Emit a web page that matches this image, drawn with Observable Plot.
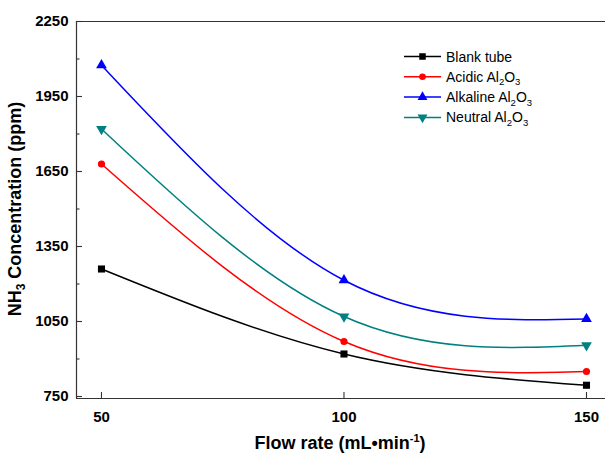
<!DOCTYPE html>
<html><head><meta charset="utf-8">
<script src="https://cdn.jsdelivr.net/npm/d3@7"></script>
<script src="https://cdn.jsdelivr.net/npm/@observablehq/plot@0.6"></script>
<style>
body{margin:0;background:#fff}
#chart{position:relative;width:605px;height:454px;overflow:hidden}
</style>
</head><body><div id="chart"></div>
<script>
// ---- data ----
const flowRates = [50, 100, 150];
const seriesNames = ["Blank tube", "Acidic Al2O3", "Alkaline Al2O3", "Neutral Al2O3"];
const blankTube = [1260, 920, 795];
const acidicAl2O3 = [1680, 970, 850];
const alkalineAl2O3 = [2075, 1215, 1060];
const neutralAl2O3 = [1820, 1070, 955];
const yTicks = [750, 1050, 1350, 1650, 1950, 2250];
const yMinorTicks = [900, 1200, 1500, 1800, 2100];
const xTicks = [50, 100, 150];

// ---- styles ----
const colors = ["#000000", "#ff0000", "#0000ff", "#008080"];
const symbols = ["square", "circle", "triangle", "triangle"];
const rotations = [0, 0, 0, 180];
const radii = [4, 3.6, 4, 4];
const xDomain = [44.85, 153.92];
const yDomain = [742, 2250];
const W = 605, H = 454, mL = 76, mR = 0, mT = 21, mB = 56;
const innerW = W - mL - mR, innerH = H - mT - mB;

const allValues = [blankTube, acidicAl2O3, alkalineAl2O3, neutralAl2O3];
const rows = [];
allValues.forEach((vals, s) => vals.forEach((v, i) => rows.push({series: seriesNames[s], idx: s, x: flowRates[i], y: v})));

const axisColor = "#333";
const marks = [
  Plot.ruleY([yDomain[0], yDomain[1]], {stroke: axisColor, strokeWidth: 1.2}),
  Plot.ruleX([xDomain[0]], {stroke: axisColor, strokeWidth: 1.2}),
  Plot.tickY(yTicks, {y: d => d, insetRight: innerW - 6, stroke: axisColor, strokeWidth: 1.1}),
  Plot.tickY(yMinorTicks, {y: d => d, insetRight: innerW - 3.5, stroke: axisColor, strokeWidth: 1.1}),
  Plot.tickX(xTicks, {x: d => d, insetTop: innerH - 6, stroke: axisColor, strokeWidth: 1.1}),
  Plot.axisY({ticks: yTicks, tickSize: 0, tickPadding: 8, tickFormat: d => String(d), label: null, fontSize: 15, fontWeight: "bold", fill: "#000"}),
  Plot.axisX({ticks: xTicks, tickSize: 0, tickPadding: 13, tickFormat: d => String(d), label: null, fontSize: 15, fontWeight: "bold", fill: "#000"})
];
seriesNames.forEach((name, s) => {
  const d = rows.filter(r => r.idx === s);
  marks.push(Plot.line(d, {x: "x", y: "y", curve: "natural", stroke: colors[s], strokeWidth: 1.5}));
  marks.push(Plot.dot(d, {x: "x", y: "y", symbol: symbols[s], r: radii[s], fill: colors[s], stroke: "none", rotate: rotations[s]}));
});

const svg = Plot.plot({
  width: W, height: H,
  marginLeft: mL, marginRight: mR, marginTop: mT, marginBottom: mB,
  style: {fontFamily: "'Liberation Sans', Arial, sans-serif", background: "#fff", overflow: "visible"},
  x: {domain: xDomain, axis: null},
  y: {domain: yDomain, axis: null},
  marks
});
document.getElementById("chart").appendChild(svg);

const sel = d3.select(svg);
const ff = "'Liberation Sans', Arial, sans-serif";

// text with numeric subscripts (e.g. Al2O3)
function subText(textSel, str, size, subSize) {
  const parts = str.split(/(\d)/).filter(p => p !== "");
  let sub = false;
  parts.forEach(p => {
    const isDigit = /\d/.test(p);
    const t = textSel.append("tspan").text(p);
    if (isDigit && !sub) { t.attr("dy", size * 0.25).attr("font-size", subSize); sub = true; }
    else if (!isDigit && sub) { t.attr("dy", -size * 0.25); sub = false; }
    else if (isDigit) t.attr("font-size", subSize);
  });
}

// y title
const yt = sel.append("text")
  .attr("transform", "translate(21,209) rotate(-90)")
  .attr("text-anchor", "middle").attr("font-family", ff)
  .attr("font-size", 18).attr("font-weight", "bold").attr("fill", "#000");
yt.append("tspan").text("NH");
yt.append("tspan").text("3").attr("font-size", 12).attr("dy", 4);
yt.append("tspan").text(" Concentration (ppm)").attr("dy", -4);

// x title
const xt = sel.append("text")
  .attr("x", 340).attr("y", 449)
  .attr("text-anchor", "middle").attr("font-family", ff)
  .attr("font-size", 18).attr("font-weight", "bold").attr("fill", "#000");
xt.append("tspan").text("Flow rate (mL•min");
xt.append("tspan").text("-1").attr("font-size", 11).attr("dy", -7);
xt.append("tspan").text(")").attr("dy", 7);

// legend
const lg = sel.append("g");
seriesNames.forEach((name, s) => {
  const y = 56.5 + s * 20.3;
  lg.append("line").attr("x1", 404).attr("x2", 441).attr("y1", y).attr("y2", y)
    .attr("stroke", colors[s]).attr("stroke-width", 1.5);
  const symType = {square: d3.symbolSquare, circle: d3.symbolCircle, triangle: d3.symbolTriangle}[symbols[s]];
  lg.append("path").attr("d", d3.symbol(symType, Math.PI * radii[s] * radii[s] * 0.85)())
    .attr("transform", `translate(422.5,${y}) rotate(${rotations[s]})`).attr("fill", colors[s]);
  const t = lg.append("text").attr("x", 446).attr("y", y + 5).attr("text-anchor", "start")
    .attr("font-family", ff).attr("font-size", 14).attr("fill", "#000");
  subText(t, name, 14, 9.5);
});
</script>
</body></html>
